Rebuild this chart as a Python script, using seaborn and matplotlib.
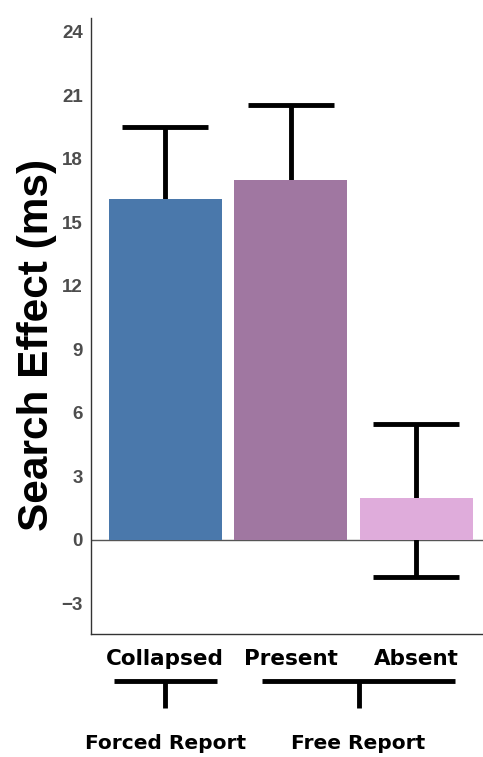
import matplotlib
matplotlib.use('Agg')
import matplotlib.pyplot as plt
import matplotlib.transforms as mtransforms
import seaborn as sns
import pandas as pd

# 데이터
conditions = ['Collapsed', 'Present', 'Absent']
effect = [16.1, 17.0, 1.95]
ci_low = [12.7, 13.45, -1.75]
ci_high = [19.5, 20.55, 5.45]
colors = ['#4a78ab', '#a077a1', '#dfacdb']
y_ticks = [-3, 0, 3, 6, 9, 12, 15, 18, 21, 24]

groups = ['Forced Report', 'Free Report']
group_span = [(-0.41, 0.41), (0.77, 2.31)]

df = pd.DataFrame({'condition': conditions, 'effect': effect})

sns.set_style('white')
fig = plt.figure(figsize=(4.83, 7.57), dpi=100)
ax = fig.add_axes([0.1884, 0.1625, 0.8116, 0.8138])

ax.axhline(0, color='#555555', lw=1.0, zorder=0.3)

# 오차막대는 막대 뒤에 그림
err_lo = [e - lo for e, lo in zip(effect, ci_low)]
err_hi = [hi - e for e, hi in zip(effect, ci_high)]
ax.errorbar(range(len(conditions)), effect, yerr=[err_lo, err_hi], fmt='none',
            ecolor='black', elinewidth=3.5, capsize=31, capthick=3.5, zorder=0.5)

sns.barplot(data=df, x='condition', y='effect', hue='condition', palette=colors,
            order=conditions, hue_order=conditions, width=0.9, errorbar=None,
            saturation=1, linewidth=0, edgecolor='none',
            legend=False, ax=ax, zorder=1)

ax.set_xlim(-0.59, 2.53)
ax.set_ylim(-4.45, 24.65)
ax.set_yticks(y_ticks)
ax.set_yticklabels([f'{t}' if t >= 0 else f'\u2212{abs(t)}' for t in y_ticks],
                   fontsize=13.5, fontweight='bold', color='#4d4d4d',
                   family=['Liberation Sans', 'DejaVu Sans'])
ax.set_xticks(range(len(conditions)))
ax.set_xticklabels(conditions, fontsize=15.5, fontweight='bold', color='black',
                   family=['DejaVu Sans'])
ax.tick_params(axis='both', length=3, width=0.8, color='#555555', pad=3)
ax.tick_params(axis='x', pad=8)

for s in ['top', 'right']:
    ax.spines[s].set_visible(False)
for s in ['left', 'bottom']:
    ax.spines[s].set_color('#333333')
    ax.spines[s].set_linewidth(1.0)

ax.set_xlabel('')
ax.set_ylabel('Search Effect (ms)', fontsize=30.5, fontweight='bold', color='black',
              family=['Liberation Sans', 'DejaVu Sans'])
ax.yaxis.set_label_coords(-0.088, 0.469)

# 아래쪽 그룹 괄호
trans = mtransforms.blended_transform_factory(ax.transData, ax.transAxes)
for name, (x0, x1) in zip(groups, group_span):
    xm = (x0 + x1) / 2
    ax.plot([x0, x1], [-0.076, -0.076], color='black', lw=3.5, transform=trans,
            clip_on=False, solid_capstyle='butt')
    ax.plot([xm, xm], [-0.076, -0.12], color='black', lw=3.5, transform=trans,
            clip_on=False, solid_capstyle='butt')
    ax.text(xm, -0.177, name, transform=trans, ha='center', va='center', color='black',
            fontsize=14.5, fontweight='bold', family=['DejaVu Sans'])

fig.savefig('out.png', dpi=100)
